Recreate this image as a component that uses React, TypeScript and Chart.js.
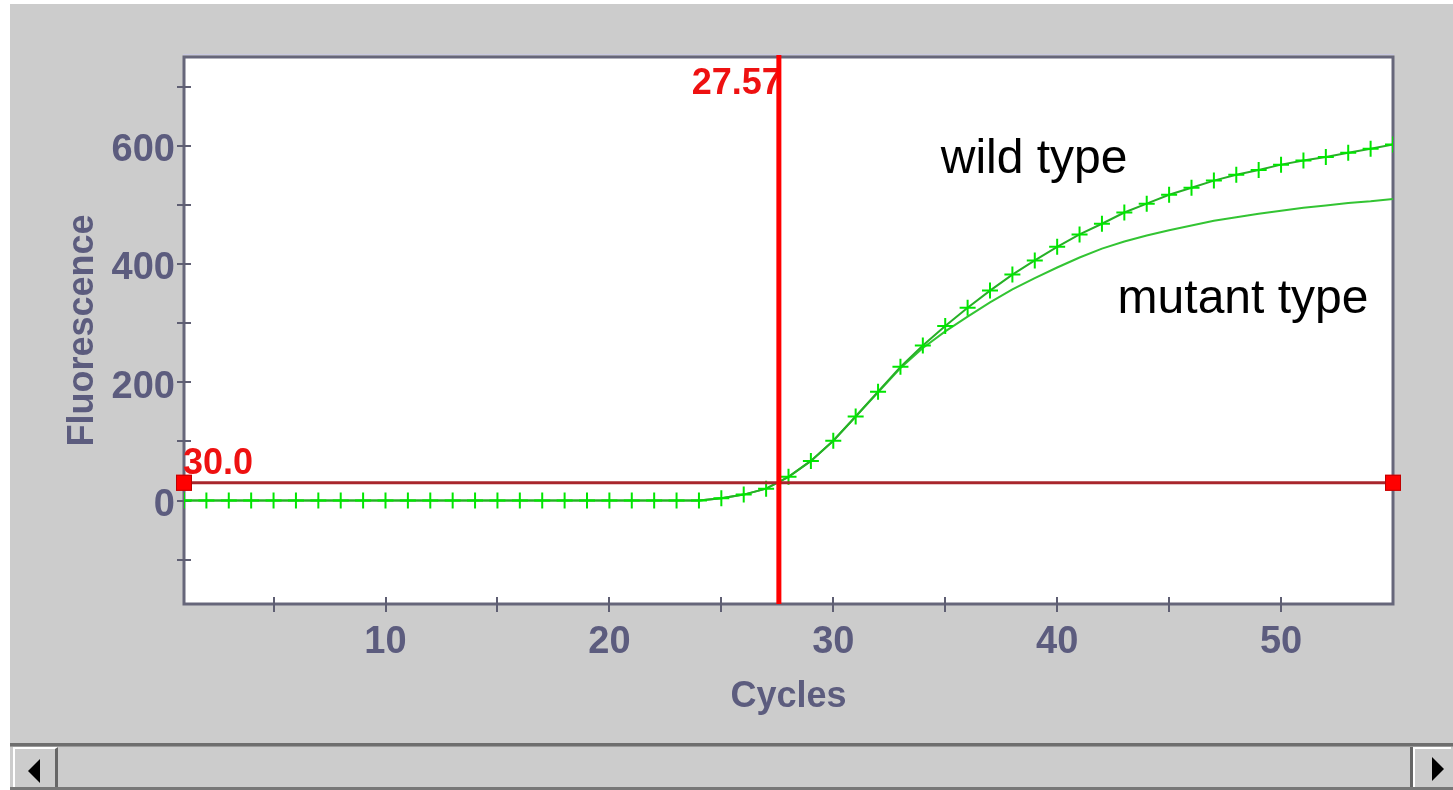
import React, { useEffect, useRef } from 'react';
import { Chart, registerables } from 'chart.js';

Chart.register(...registerables);

// ---- data ----
const CYCLES = [
  1, 2, 3, 4, 5, 6, 7, 8, 9, 10, 11, 12, 13, 14, 15, 16, 17, 18, 19, 20,
  21, 22, 23, 24, 25, 26, 27, 28, 29, 30, 31, 32, 33, 34, 35, 36, 37, 38, 39, 40,
  41, 42, 43, 44, 45, 46, 47, 48, 49, 50, 51, 52, 53, 54, 55,
];
const WILD_TYPE = [
  0, 0, 0, 0, 0, 0, 0, 0, 0, 0, 0, 0, 0, 0, 0, 0, 0, 0, 0, 0,
  0, 0, 0, 0, 4, 10, 20, 40, 67, 101, 142, 184, 226, 262, 295, 326, 355, 382, 406, 429,
  450, 468, 487, 502, 517, 529, 541, 551, 559, 568, 575, 581, 588, 595, 602,
];
const MUTANT_TYPE = [
  0, 0, 0, 0, 0, 0, 0, 0, 0, 0, 0, 0, 0, 0, 0, 0, 0, 0, 0, 0,
  0, 0, 0, 0, 4, 10, 20, 40, 67, 101, 142, 183, 224, 258, 286, 311, 335, 357, 376, 394,
  411, 426, 438, 448, 457, 465, 473, 479, 485, 490, 495, 499, 503, 506, 510,
];
const X_TICK_LABELS = [10, 20, 30, 40, 50];
const X_TICK_MARKS = [5, 10, 15, 20, 25, 30, 35, 40, 45, 50];
const Y_TICK_LABELS = [0, 200, 400, 600];
const Y_TICK_MARKS = [-100, 0, 100, 200, 300, 400, 500, 600, 700];
const X_MIN = 1;
const X_MAX = 55;
const Y_MIN = -175;
const Y_MAX = 750;
const THRESHOLD = 30.0;
const CT_VALUE = 27.57;
const CURVE_LABELS = ['wild type', 'mutant type'];
const CURVE_LABEL_X = [34.8, 42.7];
const CURVE_LABEL_Y = [553, 317];

const FONT = '"Liberation Sans", Arial, sans-serif';
const AXIS_COLOR = '#5c5c7e';

const overlayPlugin = {
  id: 'overlay',
  beforeDraw(chart: any) {
    const { ctx, chartArea: a } = chart;
    ctx.save();
    ctx.fillStyle = '#ffffff';
    ctx.fillRect(a.left, a.top, a.right - a.left, a.bottom - a.top);
    ctx.restore();
  },
  beforeDatasetsDraw(chart: any) {
    const { ctx, chartArea: a, scales } = chart;
    const x = scales.x;
    const y = scales.y;
    ctx.save();
    // frame
    ctx.strokeStyle = '#c8c8e0';
    ctx.lineWidth = 1;
    ctx.beginPath();
    ctx.moveTo(a.left - 1, a.top - 2.5);
    ctx.lineTo(a.right + 1, a.top - 2.5);
    ctx.stroke();
    ctx.strokeStyle = '#66667a';
    ctx.lineWidth = 3;
    ctx.strokeRect(a.left, a.top, a.right - a.left, a.bottom - a.top);
    // tick marks crossing the axes
    ctx.strokeStyle = '#5f5f73';
    ctx.lineWidth = 2;
    ctx.beginPath();
    Y_TICK_MARKS.forEach((v) => {
      const py = Math.round(y.getPixelForValue(v));
      ctx.moveTo(a.left - 7, py);
      ctx.lineTo(a.left + 7, py);
    });
    X_TICK_MARKS.forEach((v) => {
      const px = Math.round(x.getPixelForValue(v));
      ctx.moveTo(px, a.bottom - 7);
      ctx.lineTo(px, a.bottom + 8);
    });
    ctx.stroke();
    ctx.restore();
  },
  afterDatasetsDraw(chart: any) {
    const { ctx, chartArea: a, scales } = chart;
    const x = scales.x;
    const y = scales.y;
    ctx.save();
    // curve labels
    ctx.fillStyle = '#000000';
    ctx.font = `48px ${FONT}`;
    ctx.textAlign = 'left';
    ctx.textBaseline = 'alphabetic';
    CURVE_LABELS.forEach((t, i) => {
      ctx.fillText(t, x.getPixelForValue(CURVE_LABEL_X[i]), y.getPixelForValue(CURVE_LABEL_Y[i]));
    });

    // threshold line
    const ty = y.getPixelForValue(THRESHOLD);
    ctx.strokeStyle = '#a8262c';
    ctx.lineWidth = 3;
    ctx.beginPath();
    ctx.moveTo(a.left, ty);
    ctx.lineTo(a.right, ty);
    ctx.stroke();

    // Ct label then vertical line over it
    const cx = x.getPixelForValue(CT_VALUE);
    ctx.fillStyle = '#ee1111';
    ctx.font = `bold 36px ${FONT}`;
    ctx.textAlign = 'right';
    ctx.fillText(CT_VALUE.toFixed(2), cx + 3, a.top + 37);
    ctx.fillStyle = '#ff0000';
    ctx.fillRect(cx - 2.5, a.top - 2, 5, a.bottom - a.top + 2);

    // threshold label
    ctx.textAlign = 'left';
    ctx.font = `bold 36px ${FONT}`;
    ctx.fillStyle = '#ee1111';
    ctx.fillText(THRESHOLD.toFixed(1), a.left - 1, ty - 9);

    // handles
    const s = 16;
    [X_MIN, X_MAX].forEach((v) => {
      const px = x.getPixelForValue(v);
      ctx.fillStyle = '#ff0000';
      ctx.fillRect(px - s / 2, ty - s / 2, s, s);
      ctx.strokeStyle = '#c00000';
      ctx.lineWidth = 1;
      ctx.strokeRect(px - s / 2 + 0.5, ty - s / 2 + 0.5, s - 1, s - 1);
    });
    ctx.restore();
  },
};

function ChartCanvas() {
  const ref = useRef<HTMLCanvasElement | null>(null);
  useEffect(() => {
    if (!ref.current) return;
    const chart = new Chart(ref.current, {
      type: 'line',
      data: {
        datasets: [
          {
            label: 'wild type',
            data: CYCLES.map((c, i) => ({ x: c, y: WILD_TYPE[i] })),
            borderColor: '#26b026',
            borderWidth: 2,
            pointStyle: 'cross',
            pointRadius: 8,
            pointBorderColor: '#00e600',
            pointBackgroundColor: '#00e600',
            pointBorderWidth: 2,
            tension: 0,
          },
          {
            label: 'mutant type',
            data: CYCLES.map((c, i) => ({ x: c, y: MUTANT_TYPE[i] })),
            borderColor: '#33c433',
            borderWidth: 2,
            pointRadius: 0,
            tension: 0,
          },
        ],
      },
      options: {
        animation: false,
        responsive: false,
        devicePixelRatio: 1,
        layout: { padding: { top: 53, right: 60, left: 0, bottom: 0 } },
        plugins: {
          legend: { display: false },
          tooltip: { enabled: false },
        },
        scales: {
          x: {
            type: 'linear',
            min: X_MIN,
            max: X_MAX,
            afterBuildTicks: (s: any) => {
              s.ticks = X_TICK_LABELS.map((v) => ({ value: v }));
            },
            afterFit: (s: any) => {
              s.height = 139;
            },
            grid: { display: false, drawTicks: false },
            border: { display: false },
            ticks: {
              color: AXIS_COLOR,
              font: { family: FONT, size: 38, weight: 'bold', lineHeight: 1 },
              padding: 20,
              maxRotation: 0,
              autoSkip: false,
            },
            title: {
              display: true,
              text: 'Cycles',
              color: AXIS_COLOR,
              font: { family: FONT, size: 36, weight: 'bold', lineHeight: 1 },
              padding: { top: 0, bottom: 28 },
            },
          },
          y: {
            type: 'linear',
            min: Y_MIN,
            max: Y_MAX,
            afterBuildTicks: (s: any) => {
              s.ticks = Y_TICK_LABELS.map((v) => ({ value: v }));
            },
            afterFit: (s: any) => {
              s.width = 174;
            },
            grid: { display: false, drawTicks: false },
            border: { display: false },
            ticks: {
              color: AXIS_COLOR,
              font: { family: FONT, size: 38, weight: 'bold', lineHeight: 1 },
              padding: 9,
              labelOffset: 5,
            },
            title: {
              display: true,
              text: 'Fluorescence',
              color: AXIS_COLOR,
              font: { family: FONT, size: 36, weight: 'bold', lineHeight: 1 },
              padding: { top: 55, bottom: 0 },
            },
          },
        },
      } as any,
      plugins: [overlayPlugin],
    });
    return () => chart.destroy();
  }, []);
  return <canvas ref={ref} width={1443} height={739} style={{ display: 'block', width: 1443, height: 739 }} />;
}

export default function App() {
  return (
    <div style={{ position: 'absolute', left: 0, top: 0, width: 1453, height: 790, background: '#ffffff', overflow: 'hidden' }}>
      <div style={{ position: 'absolute', left: 10, top: 4, width: 1443, height: 739, background: '#cccccc' }}>
        <ChartCanvas />
      </div>
      {/* scrollbar */}
      <div style={{ position: 'absolute', left: 10, top: 743, width: 1443, height: 47, background: '#cccccc' }}>
        <div style={{ position: 'absolute', left: 0, top: 0, width: 1443, height: 3, background: '#6e6e6e' }} />
        <div style={{ position: 'absolute', left: 0, top: 3, width: 1443, height: 1, background: '#9a9a9a' }} />
        <div style={{ position: 'absolute', left: 0, top: 44, width: 1443, height: 3, background: '#777777' }} />
        <div
          style={{
            position: 'absolute', left: 3, top: 4, width: 40, height: 38,
            borderLeft: '2px solid #ffffff', borderTop: '2px solid #ffffff', borderRight: '3px solid #666666',
          }}
        >
          <div style={{ position: 'absolute', left: 13, top: 10, width: 0, height: 0, borderTop: '12px solid transparent', borderBottom: '12px solid transparent', borderRight: '12px solid #000000' }} />
        </div>
        <div
          style={{
            position: 'absolute', left: 1400, top: 4, width: 38, height: 40,
            borderLeft: '3px solid #666666',
          }}
        >
          <div style={{ position: 'absolute', left: 0, top: 0, width: 2, height: 40, background: '#ffffff' }} />
          <div style={{ position: 'absolute', left: 2, top: 0, width: 36, height: 2, background: '#ffffff' }} />
          <div style={{ position: 'absolute', left: 19, top: 10, width: 0, height: 0, borderTop: '12px solid transparent', borderBottom: '12px solid transparent', borderLeft: '12px solid #000000' }} />
        </div>
      </div>
    </div>
  );
}
